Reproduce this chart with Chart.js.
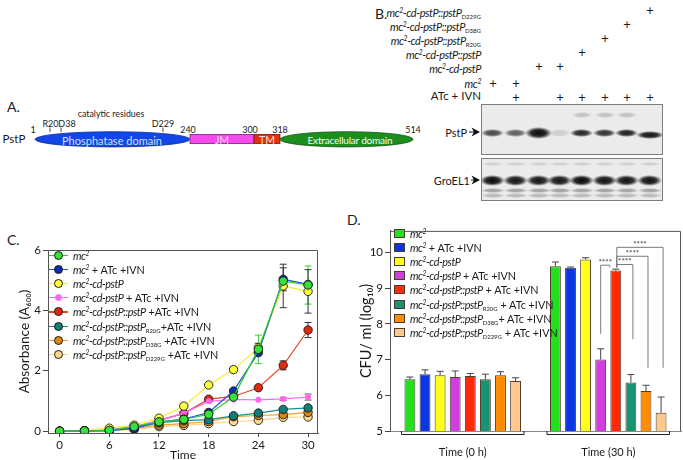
<!DOCTYPE html>
<html>
<head>
<meta charset="utf-8">
<script src="https://cdn.jsdelivr.net/npm/chart.js@4.4.0/dist/chart.umd.min.js"></script>
<style>
html, body { margin: 0; padding: 0; background: #fff; }
#page { position: relative; width: 683px; height: 460px; overflow: hidden; font-family: Lato, 'Open Sans', sans-serif; color: #1a1a1a; }
.t { position: absolute; white-space: nowrap; line-height: 1; }
.c { transform: translate(-50%, -50%); }
.r { transform: translate(-100%, -50%); }
.l { transform: translate(0, -50%); }
sup { font-size: 0.62em; vertical-align: 0.55em; line-height: 0; }
sub { font-size: 0.55em; vertical-align: -0.35em; line-height: 0; font-style: normal; letter-spacing: 0; }
i { letter-spacing: -0.4px; }
.blot { position: absolute; background: #ebebeb; border: 1.5px solid #7d7d7d; overflow: hidden; }
.band { position: absolute; filter: blur(0.7px); }
.legend { position: absolute; font-size: 10.8px; }
.legend i { letter-spacing: -0.45px; }
.legend .item { position: relative; height: 14.2px; display: flex; align-items: center; white-space: nowrap; }
.legend .sw { position: relative; display: inline-block; width: 19px; height: 9px; margin-right: 5px; }
.legend .sw .ln { position: absolute; left: 0; right: 0; top: 4px; height: 1.2px; }
.legend .sw .dot { position: absolute; left: 5px; top: 0; width: 7px; height: 7px; border-radius: 50%; border: 1px solid #111; }
.legend .box { display: inline-block; width: 9px; height: 7px; border: 1px solid #4a3a2a; margin-right: 5px; }
#chartC { position: absolute; left: 0; top: 230px; width: 340px; height: 230px; }
#chartD { position: absolute; left: 340px; top: 222px; width: 343px; height: 238px; }
</style>
</head>
<body>
<div id="page">
  <svg width="683" height="230" style="position:absolute;left:0;top:0">
    <ellipse cx="112.5" cy="139.3" rx="77.5" ry="7.6" fill="#1346e8" stroke="#0b2a99" stroke-width="0.8"/>
    <rect x="190" y="134.5" width="64" height="9" fill="#f54bec" stroke="#7d1b74" stroke-width="0.8"/>
    <rect x="254" y="134.5" width="26" height="9" fill="#e3300e" stroke="#6e1706" stroke-width="0.8"/>
    <ellipse cx="346.5" cy="139.3" rx="66.5" ry="7.6" fill="#1d8e1d" stroke="#0c560c" stroke-width="0.8"/>
    <line x1="50" y1="127.5" x2="50" y2="132" stroke="#222" stroke-width="0.8"/>
    <line x1="61" y1="127.5" x2="61" y2="132" stroke="#222" stroke-width="0.8"/>
    <line x1="163" y1="127.5" x2="163" y2="132" stroke="#222" stroke-width="0.8"/>
    <path d="M469 132 L477 132" stroke="#111" stroke-width="1"/>
    <path d="M480 132 L471.5 127.5 L474 132 L471.5 136.5 Z" fill="#111"/>
    <path d="M471 180 L477 180" stroke="#111" stroke-width="1"/>
    <path d="M480 180 L471.5 175.5 L474 180 L471.5 184.5 Z" fill="#111"/>
  </svg>

  <div class="t" style="left:7px;top:100px;font-size:14px">A.</div>
  <div class="t c" style="left:14px;top:139px;font-size:11.5px">PstP</div>
  <div class="t c" style="left:33px;top:129px;font-size:9px">1</div>
  <div class="t c" style="left:50.5px;top:123px;font-size:9px">R20</div>
  <div class="t c" style="left:67px;top:123px;font-size:9px">D38</div>
  <div class="t c" style="left:111px;top:114px;font-size:8.8px">catalytic residues</div>
  <div class="t c" style="left:163px;top:123px;font-size:9px">D229</div>
  <div class="t c" style="left:188px;top:129px;font-size:9px">240</div>
  <div class="t c" style="left:250px;top:129px;font-size:9px">300</div>
  <div class="t c" style="left:280px;top:129px;font-size:9px">318</div>
  <div class="t c" style="left:413px;top:129px;font-size:9px">514</div>
  <div class="t c" style="left:112px;top:139.5px;font-size:11px;color:#cfe0ff">Phosphatase domain</div>
  <div class="t c" style="left:222px;top:139.5px;font-size:10.5px;color:#ffd2f8">JM</div>
  <div class="t c" style="left:267px;top:139.5px;font-size:10.5px;color:#ffe2da">TM</div>
  <div class="t c" style="left:350px;top:139.5px;font-size:10px;letter-spacing:-0.2px;color:#f2fff2">Extracellular domain</div>

  <div class="t" style="left:375px;top:7px;font-size:14px">B.</div>
  <div id="blotLabels"></div>
  <div class="t r" style="left:467px;top:132px;font-size:11px">PstP</div>
  <div class="t r" style="left:470px;top:180px;font-size:11px">GroEL1</div>
  <div class="blot" id="blot1" style="left:481px;top:104px;width:180px;height:49px"></div>
  <div class="blot" id="blot2" style="left:481px;top:158px;width:180px;height:41px"></div>

  <div class="t" style="left:7px;top:233px;font-size:14px">C.</div>
  <div class="t" style="left:347px;top:213px;font-size:14px">D.</div>

  <div id="chartC"><canvas id="growthChart" width="340" height="230"></canvas></div>
  <div id="chartD"><canvas id="cfuChart" width="343" height="238"></canvas></div>
  <div class="legend" id="legendC" style="left:49px;top:248px"></div>
  <div class="legend" id="legendD" style="left:394px;top:226px"></div>
</div>

<script>
// ---- panel C: growth curves (A600) ----
var timeHours = [0, 3, 6, 9, 12, 15, 18, 21, 24, 27, 30];
var mc2       = [0, 0.01, 0.03, 0.15, 0.31, 0.39, 0.56, 1.13, 2.71, 4.97, 4.84];
var mc2Atc    = [0, 0.01, 0.02, 0.10, 0.30, 0.40, 0.62, 1.33, 2.60, 5.03, 4.86];
var cdPstP    = [0, 0.02, 0.10, 0.20, 0.43, 0.83, 1.53, 2.04, 2.76, 4.81, 4.63];
var cdPstPAtc = [0, 0.01, 0.05, 0.15, 0.35, 0.60, 0.99, 1.05, 1.04, 1.07, 1.13];
var pstPComp  = [0, 0.01, 0.04, 0.10, 0.36, 0.59, 1.06, 1.15, 1.44, 2.18, 3.35];
var pstPR20G  = [0, 0.01, 0.02, 0.10, 0.28, 0.35, 0.38, 0.51, 0.60, 0.72, 0.77];
var pstPD38G  = [0, 0.01, 0.02, 0.08, 0.20, 0.25, 0.32, 0.48, 0.52, 0.55, 0.62];
var pstPD229G = [0, 0.01, 0.02, 0.05, 0.15, 0.19, 0.25, 0.32, 0.36, 0.46, 0.47];

var mc2Err       = [null, null, null, null, null, null, null, null, 0.47, 0.12, 0.63];
var mc2AtcErr    = [null, null, null, null, null, null, null, null, null, 0.38, null];
var cdPstPErr    = [null, null, null, null, null, null, 0.05, 0.10, 0.15, 0.72, 0.72];
var cdPstPAtcErr = [null, null, null, null, null, null, null, null, null, 0.05, 0.10];
var pstPCompErr  = [null, null, null, null, null, null, null, null, 0.06, 0.15, 0.25];

var growthTicksX = [0, 6, 12, 18, 24, 30];
var growthTicksY = [0, 2, 4, 6];

// ---- panel D: CFU counts (log10) at 0 h and 30 h ----
var timeGroups = ['Time (0 h)', 'Time (30 h)'];
var cfuMc2       = [6.45, 9.61];
var cfuMc2Atc    = [6.59, 9.57];
var cfuCdPstP    = [6.56, 9.80];
var cfuCdPstPAtc = [6.51, 7.00];
var cfuPstPComp  = [6.54, 9.49];
var cfuR20G      = [6.45, 6.36];
var cfuD38G      = [6.56, 6.12];
var cfuD229G     = [6.40, 5.51];

var cfuMc2Err       = [0.06, 0.12];
var cfuMc2AtcErr    = [0.12, 0.02];
var cfuCdPstPErr    = [0.11, 0.05];
var cfuCdPstPAtcErr = [0.17, 0.30];
var cfuPstPCompErr  = [0.07, 0.04];
var cfuR20GErr      = [0.14, 0.22];
var cfuD38GErr      = [0.10, 0.16];
var cfuD229GErr     = [0.09, 0.44];

var cfuTicks = [5, 6, 7, 8, 9, 10];

// significance brackets at 30 h: from bar, to bar, level, low end of each side (log10 units)
var sigFrom  = [3, 4, 4, 4];
var sigTo    = [4, 5, 6, 7];
var sigLevel = [9.64, 9.66, 9.89, 10.14];
var sigLowL  = [7.72, 9.58, 9.58, 9.58];
var sigLowR  = [9.58, 7.57, 6.77, 6.77];

// ---- panel B: lane design of the western blot ----
var blotRowLabels = [
    '<i>mc<sup>2</sup>-cd-pstP::pstP<sub>D229G</sub></i>',
    '<i>mc<sup>2</sup>-cd-pstP::pstP<sub>D38G</sub></i>',
    '<i>mc<sup>2</sup>-cd-pstP::pstP<sub>R20G</sub></i>',
    '<i>mc<sup>2</sup>-cd-pstP::pstP</i>',
    '<i>mc<sup>2</sup>-cd-pstP</i>',
    '<i>mc<sup>2</sup></i>',
    'ATc + IVN'
];
var blotRowsOn = [
    [0, 0, 0, 0, 0, 0, 0, 1],
    [0, 0, 0, 0, 0, 0, 1, 0],
    [0, 0, 0, 0, 0, 1, 0, 0],
    [0, 0, 0, 0, 1, 0, 0, 0],
    [0, 0, 1, 1, 0, 0, 0, 0],
    [1, 1, 0, 0, 0, 0, 0, 0],
    [0, 1, 0, 1, 1, 1, 1, 1]
];
var pstpBand   = [0.72, 0.62, 1.0, 0.13, 0.88, 0.82, 0.9, 0.95];
var groelBand  = [1.0, 0.95, 0.95, 0.95, 1.0, 0.97, 0.97, 0.97];

var legendHtml = [
    '<i>mc<sup>2</sup></i>',
    '<i>mc<sup>2</sup></i> + ATc +IVN',
    '<i>mc<sup>2</sup>-cd-pstP</i>',
    '<i>mc<sup>2</sup>-cd-pstP</i> + ATc +IVN',
    '<i>mc<sup>2</sup>-cd-pstP::pstP</i> +ATc +IVN',
    '<i>mc<sup>2</sup>-cd-pstP::pstP<sub>R20G</sub></i>+ATc +IVN',
    '<i>mc<sup>2</sup>-cd-pstP::pstP<sub>D38G</sub></i> +ATc +IVN',
    '<i>mc<sup>2</sup>-cd-pstP::pstP<sub>D229G</sub></i> +ATc +IVN'
];
var legendHtmlD = [
    '<i>mc<sup>2</sup></i>',
    '<i>mc<sup>2</sup></i> + ATc +IVN',
    '<i>mc<sup>2</sup>-cd-pstP</i>',
    '<i>mc<sup>2</sup>-cd-pstP</i> + ATc +IVN',
    '<i>mc<sup>2</sup>-cd-pstP::pstP</i> + ATc +IVN',
    '<i>mc<sup>2</sup>-cd-pstP::pstP<sub>R20G</sub></i> + ATc +IVN',
    '<i>mc<sup>2</sup>-cd-pstP::pstP<sub>D38G</sub></i>+ ATc +IVN',
    '<i>mc<sup>2</sup>-cd-pstP::pstP<sub>D229G</sub></i> + ATc +IVN'
];
var seriesNames = ['mc2', 'mc2 + ATc +IVN', 'mc2-cd-pstP', 'mc2-cd-pstP + ATc +IVN',
    'mc2-cd-pstP::pstP +ATc +IVN', 'mc2-cd-pstP::pstP R20G +ATc +IVN',
    'mc2-cd-pstP::pstP D38G +ATc +IVN', 'mc2-cd-pstP::pstP D229G +ATc +IVN'];

var FONT = "Lato, 'Open Sans', sans-serif";
Chart.defaults.font.family = FONT;
Chart.defaults.color = '#1a1a1a';

var lineColors   = ['#2ccb2c', '#1f55dd', '#f2ee30', '#ff66ee', '#e8462c', '#19908a', '#f0a030', '#ffd38a'];
var markerColors = ['#36e236', '#0c2fb2', '#ffff3a', '#ff66ee', '#e02a10', '#0f7e78', '#e0870e', '#ffd98c'];
var errColors    = ['#3ad03a', '#333', '#333', '#555', '#333', '#333', '#333', '#333'];
var barColors    = ['#22e01e', '#0a36e6', '#ffff1a', '#d03ee0', '#ff2a0a', '#1a9470', '#ff8c00', '#ffc88e'];

// ---- panel B drawing ----
var laneX = [493, 516, 539, 560, 582, 605, 627, 650];
var rowLabelY = [12, 26, 40, 54, 68, 83, 96];
var rowPlusY = [10, 24, 38, 52, 66, 83, 97];
var html = '';
blotRowLabels.forEach(function(lbl, r) {
    var size = r === 6 ? 11.5 : 11;
    html += '<div class="t r" style="left:481px;top:' + rowLabelY[r] + 'px;font-size:' + size + 'px">' + lbl + '</div>';
    blotRowsOn[r].forEach(function(on, l) {
        if (on) {
            html += '<div class="t c" style="left:' + laneX[l] + 'px;top:' + rowPlusY[r] + 'px;font-size:13px">+</div>';
        }
    });
});
document.getElementById('blotLabels').innerHTML = html;

var bandDiv = function(x, y, w, h, a) {
    return '<div class="band" style="left:' + (x - w / 2) + 'px;top:' + (y - h / 2) + 'px;width:' + w + 'px;height:' + h +
        'px;background:radial-gradient(ellipse closest-side, rgba(8,8,8,' + a + ') 0%, rgba(8,8,8,' + (a * 0.85) +
        ') 55%, rgba(8,8,8,0) 100%)"></div>';
};
var b1 = '', b2 = '';
laneX.forEach(function(x, l) {
    var cx = x - 482.5;
    var w = l === 2 ? 27 : (l === 7 ? 28 : 23);
    var h = l === 2 ? 12 : 8;
    var y = l === 7 ? 30 : 28;
    b1 += bandDiv(cx, y, w, h, pstpBand[l]);
    if (l >= 4 && l <= 6) { b1 += bandDiv(cx, 10, 20, 6, 0.18); }
    b2 += bandDiv(cx, 21, 25, 11, groelBand[l]);
    b2 += bandDiv(cx, 31, 24, 5, 0.32);
    b2 += bandDiv(cx, 36, 24, 5, 0.22);
    b2 += bandDiv(cx, 5, 22, 4, 0.12);
});
b1 += bandDiv(538, 40, 26, 14, 0.12);
document.getElementById('blot1').innerHTML = b1;
document.getElementById('blot2').innerHTML = b2;

// ---- shared plugins ----
var errorBars = {
    id: 'errorBars',
    beforeDatasetsDraw: function(chart) {
        var ctx = chart.ctx, y = chart.scales.y;
        chart.data.datasets.forEach(function(ds, i) {
            if (!ds.errors) return;
            var meta = chart.getDatasetMeta(i);
            ctx.save();
            ctx.strokeStyle = ds.errorColor || '#333';
            ctx.lineWidth = 1;
            ds.errors.forEach(function(e, j) {
                if (e === null || e === undefined) return;
                var v = typeof ds.data[j] === 'object' ? ds.data[j].y : ds.data[j];
                var px = meta.data[j].x;
                var top = y.getPixelForValue(v + e);
                var bot = ds.errorUpOnly ? y.getPixelForValue(v) : y.getPixelForValue(v - e);
                ctx.beginPath();
                ctx.moveTo(px, top); ctx.lineTo(px, bot);
                ctx.moveTo(px - 3.5, top); ctx.lineTo(px + 3.5, top);
                if (!ds.errorUpOnly) { ctx.moveTo(px - 3.5, bot); ctx.lineTo(px + 3.5, bot); }
                ctx.stroke();
            });
            ctx.restore();
        });
    }
};

var frame = {
    id: 'frame',
    afterDraw: function(chart) {
        var a = chart.chartArea, ctx = chart.ctx;
        ctx.save();
        ctx.strokeStyle = '#555';
        ctx.lineWidth = 1;
        ctx.beginPath();
        ctx.moveTo(a.left, a.top + 0.5); ctx.lineTo(a.right - 0.5, a.top + 0.5); ctx.lineTo(a.right - 0.5, a.bottom);
        ctx.stroke();
        ctx.restore();
    }
};

var htmlLegend = function(targetId, kind) {
    return {
        id: 'htmlLegend',
        afterUpdate: function(chart) {
            var out = '';
            chart.data.datasets.forEach(function(ds) {
                var sw;
                if (kind === 'line') {
                    var small = ds.pointRadius < 4;
                    sw = '<span class="sw"><span class="ln" style="background:' + ds.borderColor + '"></span>' +
                        '<span class="dot" style="background:' + ds.pointBackgroundColor + ';border-color:' + ds.pointBorderColor +
                        (small ? ';width:5px;height:5px;left:6px;top:1px' : '') + '"></span></span>';
                } else {
                    sw = '<span class="box" style="background:' + ds.backgroundColor + '"></span>';
                }
                out += '<div class="item">' + sw + '<span>' + ds.legendHtml + '</span></div>';
            });
            document.getElementById(targetId).innerHTML = out;
        }
    };
};

// ---- chart C ----
var growthSeries = [mc2, mc2Atc, cdPstP, cdPstPAtc, pstPComp, pstPR20G, pstPD38G, pstPD229G];
var growthErrors = [mc2Err, mc2AtcErr, cdPstPErr, cdPstPAtcErr, pstPCompErr, null, null, null];

var growthSets = growthSeries.map(function(vals, i) {
    var isMagenta = i === 3;
    return {
        label: seriesNames[i],
        legendHtml: legendHtml[i],
        data: timeHours.map(function(t, k) { return { x: t, y: vals[k] }; }),
        borderColor: lineColors[i],
        borderWidth: 1.2,
        pointBackgroundColor: markerColors[i],
        pointBorderColor: isMagenta ? markerColors[i] : '#1a1a1a',
        pointBorderWidth: isMagenta ? 0 : 0.9,
        pointRadius: isMagenta ? 3 : 4.2,
        tension: 0,
        errors: growthErrors[i],
        errorColor: errColors[i]
    };
});

new Chart(document.getElementById('growthChart'), {
    type: 'line',
    data: { datasets: growthSets },
    options: {
        responsive: false,
        animation: false,
        layout: { padding: { left: 0, right: 22, top: 20, bottom: 0 } },
        plugins: { legend: { display: false }, tooltip: { enabled: false } },
        scales: {
            x: {
                type: 'linear', min: -1.4, max: 31.2,
                afterBuildTicks: function(s) { s.ticks = growthTicksX.map(function(v) { return { value: v }; }); },
                afterFit: function(s) { s.height = 27; },
                grid: { display: true, drawOnChartArea: false, tickLength: 4, color: '#444' },
                border: { color: '#555' },
                ticks: { font: { size: 11.5 }, padding: 1, maxRotation: 0 },
                title: { display: true, text: 'Time', font: { size: 12, lineHeight: 0.8 }, padding: { top: 0, bottom: 0 } }
            },
            y: {
                min: -0.06, max: 6,
                afterBuildTicks: function(s) { s.ticks = growthTicksY.map(function(v) { return { value: v }; }); },
                afterFit: function(s) { s.width = 48; },
                grid: { display: true, drawOnChartArea: false, tickLength: 5, color: '#444' },
                border: { color: '#555' },
                ticks: { font: { size: 11.5 }, padding: 2 },
                title: { display: true, text: 'Absorbance (A\u2086\u2080\u2080)', font: { size: 13.5, lineHeight: 1.2 }, padding: { top: 17, bottom: 0 } }
            }
        }
    },
    plugins: [errorBars, frame, htmlLegend('legendC', 'line')]
});

// ---- chart D ----
var cfuSeries = [cfuMc2, cfuMc2Atc, cfuCdPstP, cfuCdPstPAtc, cfuPstPComp, cfuR20G, cfuD38G, cfuD229G];
var cfuErrors = [cfuMc2Err, cfuMc2AtcErr, cfuCdPstPErr, cfuCdPstPAtcErr, cfuPstPCompErr, cfuR20GErr, cfuD38GErr, cfuD229GErr];

var cfuSets = cfuSeries.map(function(vals, i) {
    return {
        label: seriesNames[i],
        legendHtml: legendHtmlD[i],
        data: vals,
        backgroundColor: barColors[i],
        borderColor: '#4e3c2a',
        borderWidth: 1,
        borderSkipped: false,
        errors: cfuErrors[i],
        errorUpOnly: true,
        errorColor: '#444',
        barPercentage: 0.72,
        categoryPercentage: 0.83
    };
});

var groupBrackets = {
    id: 'groupBrackets',
    afterDraw: function(chart) {
        var ctx = chart.ctx, bottom = chart.chartArea.bottom;
        var first = chart.getDatasetMeta(0), last = chart.getDatasetMeta(chart.data.datasets.length - 1);
        ctx.save();
        ctx.strokeStyle = '#222';
        ctx.lineWidth = 1;
        timeGroups.forEach(function(g, j) {
            var l = first.data[j].x - first.data[j].width / 2 - 3;
            var r = last.data[j].x + last.data[j].width / 2 + 3;
            ctx.beginPath();
            ctx.moveTo(l, bottom); ctx.lineTo(l, bottom + 3.5); ctx.lineTo(r, bottom + 3.5); ctx.lineTo(r, bottom);
            ctx.stroke();
        });
        ctx.restore();
    }
};

var sigBrackets = {
    id: 'sigBrackets',
    afterDatasetsDraw: function(chart) {
        var ctx = chart.ctx, y = chart.scales.y;
        ctx.save();
        ctx.strokeStyle = '#7a7a7a';
        ctx.fillStyle = '#555';
        ctx.lineWidth = 1;
        ctx.font = 'bold 8px ' + FONT;
        ctx.textAlign = 'center';
        ctx.textBaseline = 'bottom';
        sigFrom.forEach(function(f, k) {
            var xl = chart.getDatasetMeta(f).data[1].x + (k === 0 ? 0 : 1);
            var xr = chart.getDatasetMeta(sigTo[k]).data[1].x + (k === 0 ? -6 : 2);
            var yl = y.getPixelForValue(sigLevel[k]);
            ctx.beginPath();
            ctx.moveTo(xl, y.getPixelForValue(sigLowL[k])); ctx.lineTo(xl, yl);
            ctx.lineTo(xr, yl); ctx.lineTo(xr, y.getPixelForValue(sigLowR[k]));
            ctx.stroke();
            ctx.fillText('****', (xl + xr) / 2, yl + 1);
        });
        ctx.restore();
    }
};

new Chart(document.getElementById('cfuChart'), {
    type: 'bar',
    data: { labels: timeGroups, datasets: cfuSets },
    options: {
        responsive: false,
        animation: false,
        layout: { padding: { left: 0, right: 2, top: 6, bottom: 0 } },
        plugins: { legend: { display: false }, tooltip: { enabled: false } },
        scales: {
            x: {
                grid: { display: false },
                border: { display: true, color: '#888' },
                afterFit: function(s) { s.height = 29; },
                ticks: { font: { size: 11 }, padding: 7, maxRotation: 0 }
            },
            y: {
                min: 5, max: 10.6,
                afterBuildTicks: function(s) { s.ticks = cfuTicks.map(function(v) { return { value: v }; }); },
                afterFit: function(s) { s.width = 50; },
                grid: { display: true, drawOnChartArea: false, tickLength: 5, color: '#444' },
                border: { color: '#555' },
                ticks: { font: { size: 11.5 }, padding: 2 },
                title: { display: true, text: 'CFU/ ml (log\u2081\u2080)', font: { size: 14.5, lineHeight: 1.2 }, padding: { top: 18, bottom: 0 } }
            }
        }
    },
    plugins: [errorBars, frame, groupBrackets, sigBrackets, htmlLegend('legendD', 'bar')]
});
</script>
</body>
</html>
